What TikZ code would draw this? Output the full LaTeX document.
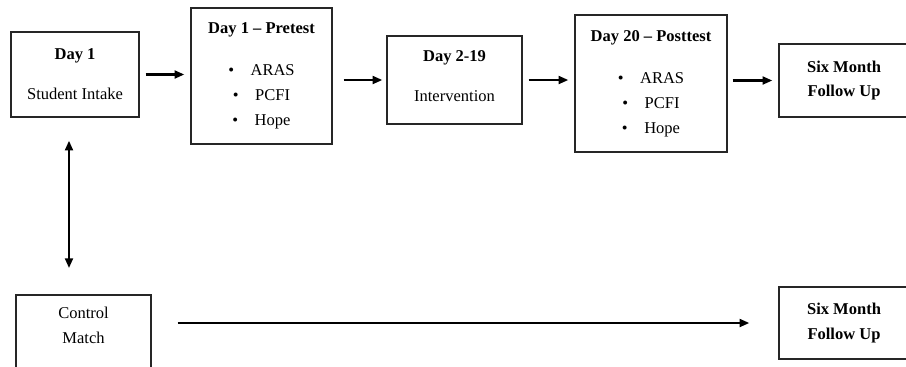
\documentclass[tikz,border=0pt]{standalone}
\usepackage{fontspec}
\setmainfont{Liberation Serif}
\usetikzlibrary{arrows.meta, calc}

\begin{document}
\begin{tikzpicture}[
    x=0.02cm, y=-0.02cm,
    font=\fontsize{9.4}{14.2}\selectfont,
    box/.style={
      draw=black!85,
      line width=0.85pt,
      align=center,
      inner sep=2pt,
    },
    flow/.style={
      draw=black,
      line width=1.2pt,
      -{Triangle[length=5.5pt,width=4.5pt]},
    },
    link/.style={
      draw=black,
      line width=1.2pt,
      {Triangle[length=5.5pt,width=4.5pt]}-{Triangle[length=5.5pt,width=4.5pt]},
    },
  ]

  \useasboundingbox (0,0) rectangle (906,366);

  % Treatment group
  \node[box, minimum width=2.56cm, minimum height=1.70cm] (I) at (75,74.5) {%
    \textbf{Day 1}\\[8.6pt]
    Student Intake
  };
  \node[box, minimum width=2.82cm, minimum height=2.72cm] (P) at (261.5,76) {%
    \textbf{Day 1 -- Pretest}\\[9.7pt]
    \textbullet\quad ARAS\\
    \textbullet\quad PCFI\\
    \textbullet\quad Hope
  };
  \node[box, minimum width=2.70cm, minimum height=1.76cm, text depth=0.15cm] (V) at (454.5,80) {%
    \textbf{Day 2-19}\\[8.6pt]
    Intervention
  };
  \node[box, minimum width=3.04cm, minimum height=2.74cm] (T) at (651,83.5) {%
    \textbf{Day 20 -- Posttest}\\[9.7pt]
    \textbullet\quad ARAS\\
    \textbullet\quad PCFI\\
    \textbullet\quad Hope
  };
  \node[box, minimum width=2.60cm, minimum height=1.46cm] (F) at (844,80.5) {%
    \textbf{Six Month}\\
    \textbf{Follow Up}
  };

  % Control group
  \node[box, minimum width=2.70cm, inner ysep=0.24cm, text depth=1.05cm, anchor=north] (C) at (83.5,294) {%
    Control\\
    Match
  };
  \node[box, minimum width=2.60cm, minimum height=1.44cm] (G) at (844,323) {%
    \textbf{Six Month}\\
    \textbf{Follow Up}
  };

  % Arrows
  \draw[flow, shorten <=0.12cm, shorten >=0.12cm] (I.east) -- (I.east -| P.west);
  \draw[flow, shorten <=0.22cm, shorten >=0.08cm] (P.east |- V.west) -- (V.west);
  \draw[flow, shorten <=0.12cm, shorten >=0.12cm] (V.east) -- (V.east -| T.west);
  \draw[flow, shorten <=0.10cm, shorten >=0.12cm] (T.east |- F.west) -- (F.west);
  \draw[link, shorten <=0.46cm, shorten >=0.52cm] ([xshift=-0.12cm]I.south) -- ([xshift=-0.12cm]I.south |- C.north);
  \draw[flow, shorten <=0.52cm, shorten >=0.58cm] (C.north east |- G.west) -- (G.west);

\end{tikzpicture}
\end{document}
